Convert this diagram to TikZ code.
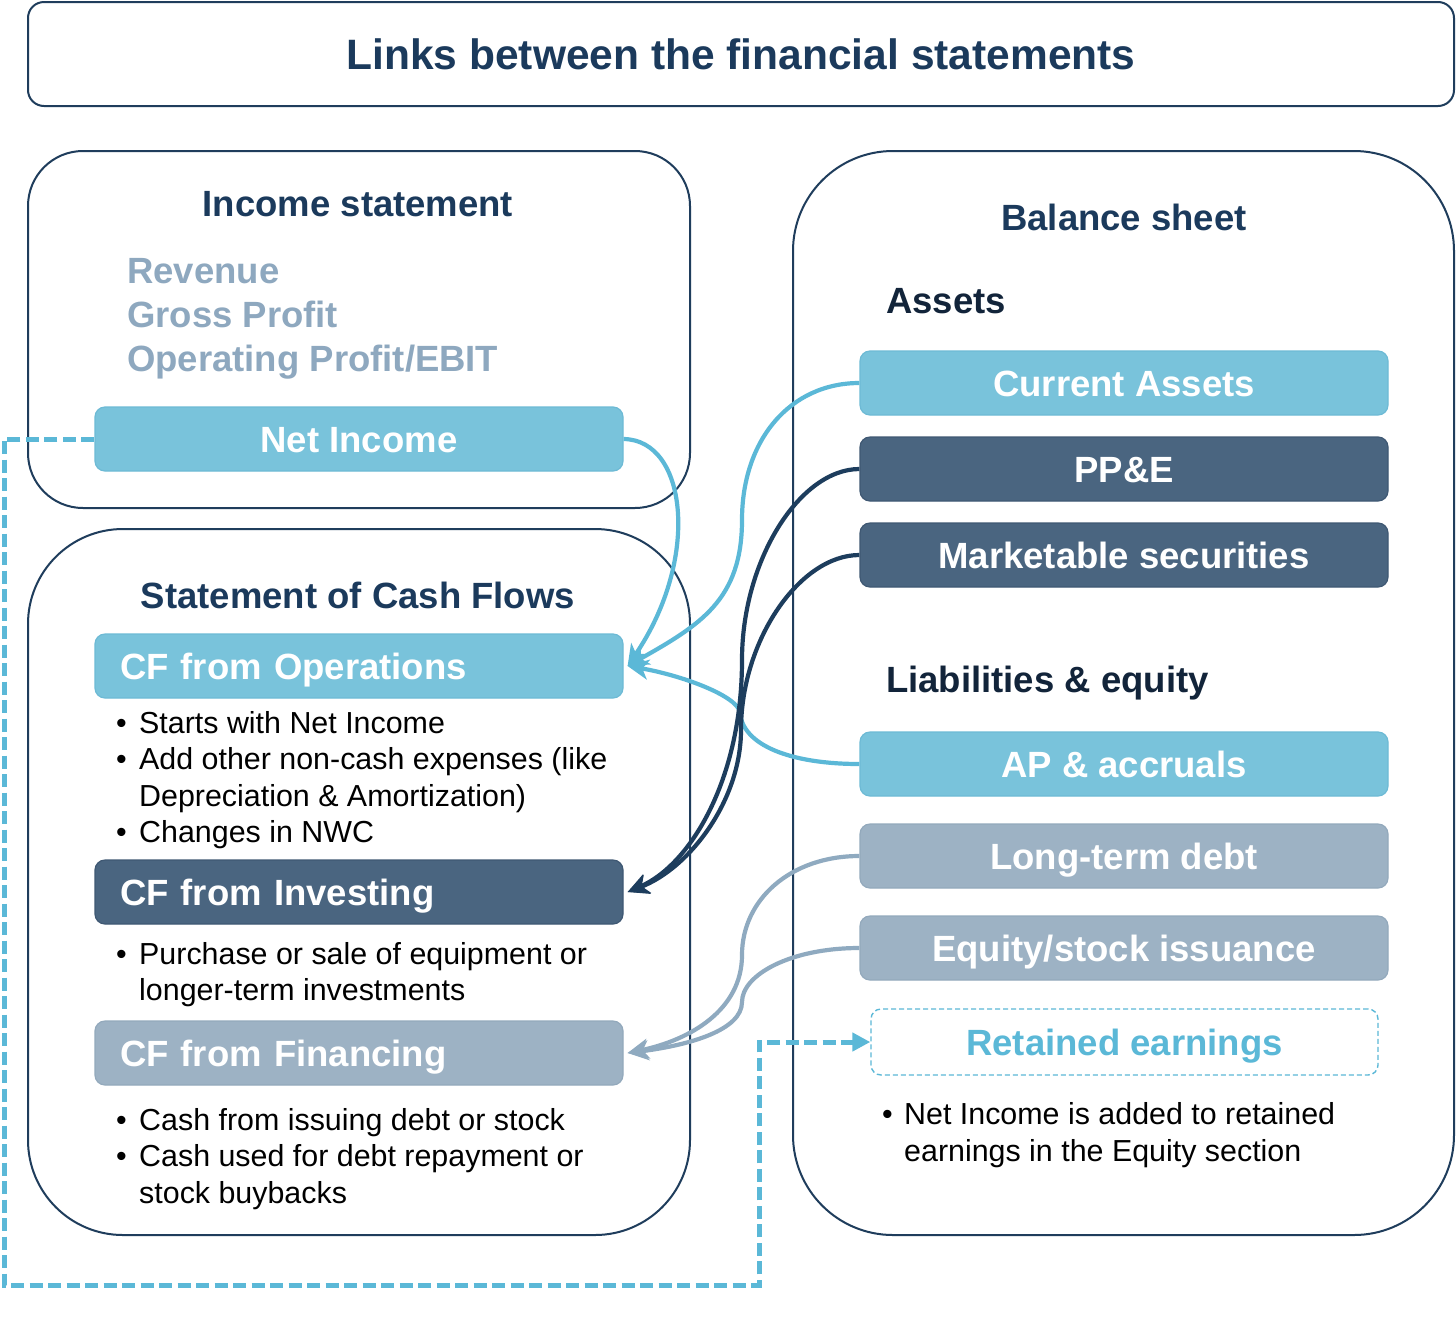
\documentclass[tikz,border=0pt]{standalone}
\usepackage{fontspec}
\setmainfont{Liberation Sans}
\usetikzlibrary{arrows.meta}
\definecolor{navy}{HTML}{1F3D5C}
\definecolor{headc}{HTML}{1B3A5C}
\definecolor{darkhead}{HTML}{12243A}
\definecolor{lblue}{HTML}{79C3DB}
\definecolor{lblueD}{HTML}{6DBAD5}
\definecolor{slate}{HTML}{4A6580}
\definecolor{slateD}{HTML}{3F5873}
\definecolor{gblue}{HTML}{9DB2C4}
\definecolor{gblueD}{HTML}{93A9BC}
\definecolor{revc}{HTML}{8EA8BF}
\definecolor{arlight}{HTML}{5BB8D7}
\definecolor{ardark}{HTML}{1D3D5D}
\definecolor{argray}{HTML}{8FAAC0}
\newcommand\lblfont{\fontsize{36.5}{43}\selectfont\bfseries}
\newcommand\ttlfont{\fontsize{42.5}{50}\selectfont\bfseries}
\newcommand\bulfont{\fontsize{30.4}{36}\selectfont}
\begin{document}
\begin{tikzpicture}[x=1pt,y=-1pt,
  frame/.style={draw=navy, line width=2pt, rectangle, inner sep=0pt},
  hd/.style={font=\lblfont, text=headc, text height=26.1pt, text depth=0pt, inner sep=0pt},
  bx/.style={rectangle, rounded corners=10pt, minimum width=528pt, minimum height=64pt,
     inner sep=0pt, text height=26.1pt, text depth=0pt, font=\lblfont, text=white, line width=1.2pt},
  lb/.style={bx, fill=lblue, draw=lblueD},
  sl/.style={bx, fill=slate, draw=slateD},
  gb/.style={bx, fill=gblue, draw=gblueD},
  lalign/.style={text width=478pt, align=left, inner xsep=25pt},
  rev/.style={font=\lblfont, text=revc, anchor=base west, inner sep=0pt},
  bul/.style={font=\bulfont, text=black, anchor=base west, inner sep=0pt},
  arr/.style={line width=4.2pt, -{Stealth[length=21pt,width=20pt,inset=6pt]}},
]
\useasboundingbox (0,0) rectangle (1456,1318);
\fill[white] (0,0) rectangle (1456,1318);

% frames
\node[frame, rounded corners=16pt, minimum width=1426pt, minimum height=104pt] (titlebox) at (741,54) {};
\node[font=\ttlfont, text=headc, text height=30.4pt, text depth=0pt, inner sep=0pt] (title) at (741,54) {Links between the financial statements};

\node[frame, rounded corners=55pt, minimum width=662pt, minimum height=357pt] (isframe) at (359,329.5) {};
\node[frame, rounded corners=95pt, minimum width=662pt, minimum height=706pt] (cfframe) at (359,882) {};
\node[frame, rounded corners=100pt, minimum width=661pt, minimum height=1084pt] (bsframe) at (1123.5,693) {};

% income statement
\node[hd] (ish) at (358,203) {Income statement};
\node[rev] (rev1) at (127,283) {Revenue};
\node[rev] (rev2) at (127,327) {Gross Profit};
\node[rev] (rev3) at (127,371) {Operating Profit/EBIT};
\node[lb] (ni) at (359,439) {Net Income};

% cash flows
\node[hd] (cfh) at (358,595) {Statement of Cash Flows};
\node[lb, lalign] (cfo) at (359,666) {CF from Operations};
\node[bul] (o1b) at (116,733) {•};
\node[bul] (o1) at (139,733) {Starts with Net Income};
\node[bul] (o2b) at (116,769.5) {•};
\node[bul] (o2) at (139,769.5) {Add other non-cash expenses (like};
\node[bul] (o3) at (139,806) {Depreciation \& Amortization)};
\node[bul] (o4b) at (116,842.5) {•};
\node[bul] (o4) at (139,842.5) {Changes in NWC};

\node[sl, lalign] (cfi) at (359,892) {CF from Investing};
\node[bul] (i1b) at (116,964) {•};
\node[bul] (i1) at (139,964) {Purchase or sale of equipment or};
\node[bul] (i2) at (139,1000.5) {longer-term investments};

\node[gb, lalign] (cff) at (359,1053) {CF from Financing};
\node[bul] (f1b) at (116,1130) {•};
\node[bul] (f1) at (139,1130) {Cash from issuing debt or stock};
\node[bul] (f2b) at (116,1166.5) {•};
\node[bul] (f2) at (139,1166.5) {Cash used for debt repayment or};
\node[bul] (f3) at (139,1203) {stock buybacks};

% balance sheet
\node[hd] (bsh) at (1124,217.5) {Balance sheet};
\node[hd, text=darkhead, anchor=west] (ash) at (886,300.5) {Assets};
\node[lb] (ca) at (1124,383) {Current Assets};
\node[sl] (ppe) at (1124,469) {PP\&E};
\node[sl] (ms) at (1124,555) {Marketable securities};
\node[hd, text=darkhead, anchor=west] (leh) at (886,679) {Liabilities \& equity};
\node[lb] (ap) at (1124,764) {AP \& accruals};
\node[gb] (ltd) at (1124,856) {Long-term debt};
\node[gb] (eq) at (1124,948) {Equity/stock issuance};
\node[bx, minimum width=507pt, minimum height=66pt, draw=arlight, line width=1.4pt,
      dash pattern=on 5pt off 3pt, text=arlight] (re) at (1124.5,1042) {Retained earnings};
\node[bul] (r1b) at (882,1124) {•};
\node[bul] (r1) at (904,1124) {Net Income is added to retained};
\node[bul] (r2) at (904,1161) {earnings in the Equity section};

% connectors
\draw[arr, draw=arlight, arlight] (ni.east) .. controls (688,440) and (700,560) .. ([xshift=4pt]cfo.east);
\draw[arr, draw=arlight] (ca.west) .. controls (790,383) and (742,440) .. (742,520)
      .. controls (742,600) and (700,625) .. ([xshift=4pt]cfo.east);
\draw[arr, draw=arlight] (ap.west) .. controls (790,764) and (742,745) .. (740,712)
      .. controls (736,695) and (680,675) .. ([xshift=4pt]cfo.east);
\draw[arr, draw=ardark] (ppe.west) .. controls (800,469) and (742,560) .. (742,660)
      .. controls (742,780) and (690,865) .. ([xshift=4pt]cfi.east);
\draw[arr, draw=ardark] (ms.west) .. controls (800,555) and (741,640) .. (741,730)
      .. controls (741,800) and (690,868) .. ([xshift=4pt]cfi.east);
\draw[arr, draw=argray] (ltd.west) .. controls (790,856) and (742,900) .. (742,955)
      .. controls (742,1010) and (690,1040) .. ([xshift=4pt]cff.east);
\draw[arr, draw=argray] (eq.west) .. controls (790,948) and (742,975) .. (742,1002)
      .. controls (742,1030) and (690,1045) .. ([xshift=4pt]cff.east);

\coordinate (d1) at (4,1285);
\coordinate (d2) at (759,1285);
\draw[draw=arlight, line width=5pt, dash pattern=on 13pt off 5.5pt,
      -{Triangle[length=18pt,width=18pt]}] (ni.west) -| (d1) -- (d2) |- (re.west);
\end{tikzpicture}
\end{document}
